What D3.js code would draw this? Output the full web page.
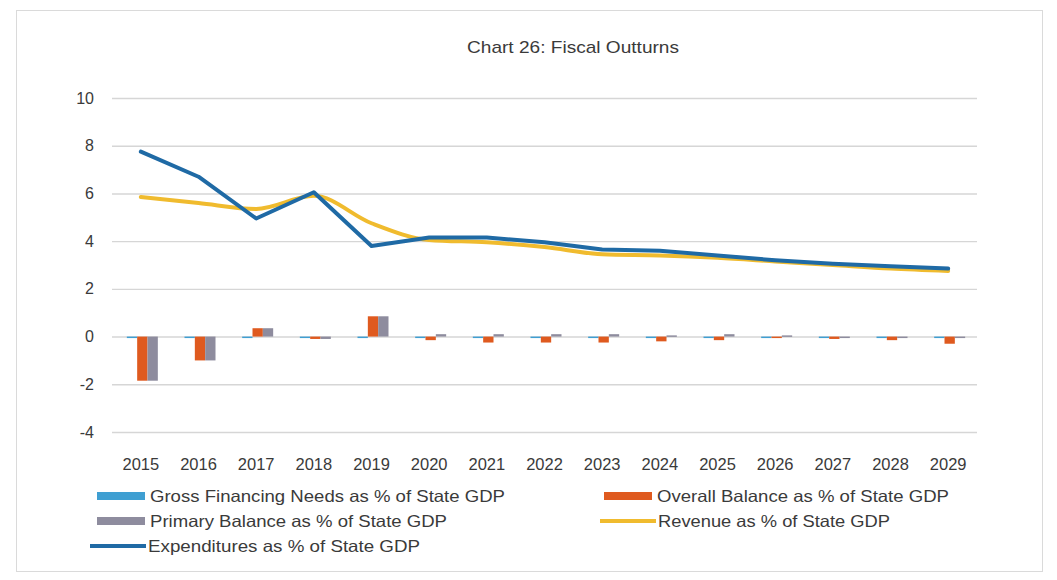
<!DOCTYPE html>
<html>
<head>
<meta charset="utf-8">
<script src="https://cdn.jsdelivr.net/npm/d3@7"></script>
<style>
  html, body { margin: 0; padding: 0; background: #ffffff; }
  svg { display: block; }
  text { font-family: "Liberation Sans", Arial, sans-serif; fill: #3a3a3a; }
</style>
</head>
<body>
<svg id="chart" width="1057" height="580"></svg>
<script>
// Fiscal outturns, 2015-2029 (% of State GDP)
const years = ["2015","2016","2017","2018","2019","2020","2021","2022","2023","2024","2025","2026","2027","2028","2029"];
const grossFinancingNeeds = [0, 0, 0, 0, 0, -0.05, -0.05, -0.05, -0.05, -0.05, -0.05, -0.03, -0.03, -0.05, -0.05];
const overallBalance      = [-1.85, -1.0, 0.35, -0.1, 0.85, -0.15, -0.25, -0.25, -0.25, -0.2, -0.15, -0.05, -0.1, -0.15, -0.3];
const primaryBalance      = [-1.85, -1.0, 0.35, -0.1, 0.85, 0.1, 0.1, 0.1, 0.1, 0.05, 0.1, 0.05, -0.05, -0.05, -0.05];
const revenue             = [5.85, 5.6, 5.35, 5.9, 4.75, 4.05, 3.95, 3.75, 3.45, 3.4, 3.3, 3.15, 3.0, 2.85, 2.75];
const expenditures        = [7.75, 6.7, 4.95, 6.05, 3.8, 4.15, 4.15, 3.95, 3.65, 3.6, 3.4, 3.2, 3.05, 2.95, 2.85];
const yTicks = [-4, -2, 0, 2, 4, 6, 8, 10];

const barSeries = [
  { name: "Gross Financing Needs as % of State GDP", values: grossFinancingNeeds, color: "#3f9fd2" },
  { name: "Overall Balance as % of State GDP",       values: overallBalance,      color: "#df5a1f" },
  { name: "Primary Balance as % of State GDP",       values: primaryBalance,      color: "#8e8c9e" }
];
const lineSeries = [
  { name: "Revenue as % of State GDP",      values: revenue,      color: "#f0bb2e", curve: d3.curveMonotoneX },
  { name: "Expenditures as % of State GDP", values: expenditures, color: "#1f6aa5", curve: d3.curveLinear }
];

const svg = d3.select("#chart");

// outer chart frame
svg.append("rect")
  .attr("x", 16.5).attr("y", 10.5).attr("width", 1026).attr("height", 561)
  .attr("fill", "#ffffff").attr("stroke", "#dadada");

svg.append("text")
  .attr("x", 573).attr("y", 53)
  .attr("text-anchor", "middle")
  .attr("textLength", 212).attr("lengthAdjust", "spacingAndGlyphs")
  .style("font-size", "17px")
  .text("Chart 26: Fiscal Outturns");

const plot = { left: 112, right: 977, top: 98, bottom: 432 };

const x = d3.scaleBand().domain(years).range([plot.left, plot.right]).padding(0);
const y = d3.scaleLinear().domain([-4, 10]).range([plot.bottom, plot.top]);
const xInner = d3.scaleBand().domain(barSeries.map(s => s.name)).range([-14, 17]).padding(0);

// horizontal gridlines
svg.append("g")
  .attr("transform", `translate(${plot.left},0)`)
  .call(d3.axisLeft(y).tickValues(yTicks).tickSize(-(plot.right - plot.left)).tickFormat(""))
  .call(g => g.select(".domain").remove())
  .call(g => g.selectAll("line").attr("stroke", "#d6d6d6").attr("stroke-width", 1.4));

// y-axis labels
svg.append("g")
  .attr("transform", `translate(${plot.left - 15},0)`)
  .call(d3.axisLeft(y).tickValues(yTicks).tickSize(0).tickFormat(d => String(d)))
  .call(g => g.select(".domain").remove())
  .call(g => g.selectAll("text").style("font-size", "16px").attr("fill", "#3a3a3a"));

// x-axis labels
svg.append("g")
  .attr("transform", `translate(0,${plot.bottom + 23})`)
  .call(d3.axisBottom(x).tickSize(0))
  .call(g => g.select(".domain").remove())
  .call(g => g.selectAll("text").style("font-size", "16.5px").attr("fill", "#3a3a3a"));

// clustered bars
barSeries.forEach(s => {
  svg.append("g").selectAll("rect")
    .data(years.map((yr, i) => ({ yr, v: s.values[i] })))
    .join("rect")
    .attr("x", d => x(d.yr) + x.bandwidth() / 2 + xInner(s.name))
    .attr("width", xInner.bandwidth())
    .attr("y", d => y(Math.max(0, d.v)))
    .attr("height", d => Math.max(1.5, Math.abs(y(d.v) - y(0))))
    .attr("fill", s.color);
});

// lines
lineSeries.forEach(s => {
  const line = d3.line()
    .x((d, i) => x(years[i]) + x.bandwidth() / 2)
    .y(d => y(d))
    .curve(s.curve);
  svg.append("path")
    .datum(s.values)
    .attr("d", line)
    .attr("fill", "none")
    .attr("stroke", s.color)
    .attr("stroke-width", 4)
    .attr("stroke-linejoin", "round")
    .attr("stroke-linecap", "round");
});

// legend
const legendItems = [
  { s: barSeries[0], type: "bar",  x: 97,  y: 496, w: 355 },
  { s: barSeries[1], type: "bar",  x: 604, y: 496, w: 292 },
  { s: barSeries[2], type: "bar",  x: 97,  y: 521, w: 297 },
  { s: lineSeries[0], type: "line", x: 600, y: 521, w: 232 },
  { s: lineSeries[1], type: "line", x: 90,  y: 546, w: 272 }
];
const legend = svg.append("g");
legendItems.forEach(it => {
  const g = legend.append("g").attr("transform", `translate(${it.x},${it.y})`);
  let tx;
  if (it.type === "bar") {
    g.append("rect").attr("x", 0).attr("y", -4).attr("width", 48).attr("height", 8).attr("fill", it.s.color);
    tx = 53;
  } else {
    g.append("line").attr("x1", 0).attr("x2", 56).attr("y1", 0).attr("y2", 0)
      .attr("stroke", it.s.color).attr("stroke-width", 4);
    tx = 58;
  }
  g.append("text").attr("x", tx).attr("y", 0).attr("dy", "0.35em")
    .attr("textLength", it.w).attr("lengthAdjust", "spacingAndGlyphs")
    .style("font-size", "16.5px").text(it.s.name);
});
</script>
</body>
</html>
